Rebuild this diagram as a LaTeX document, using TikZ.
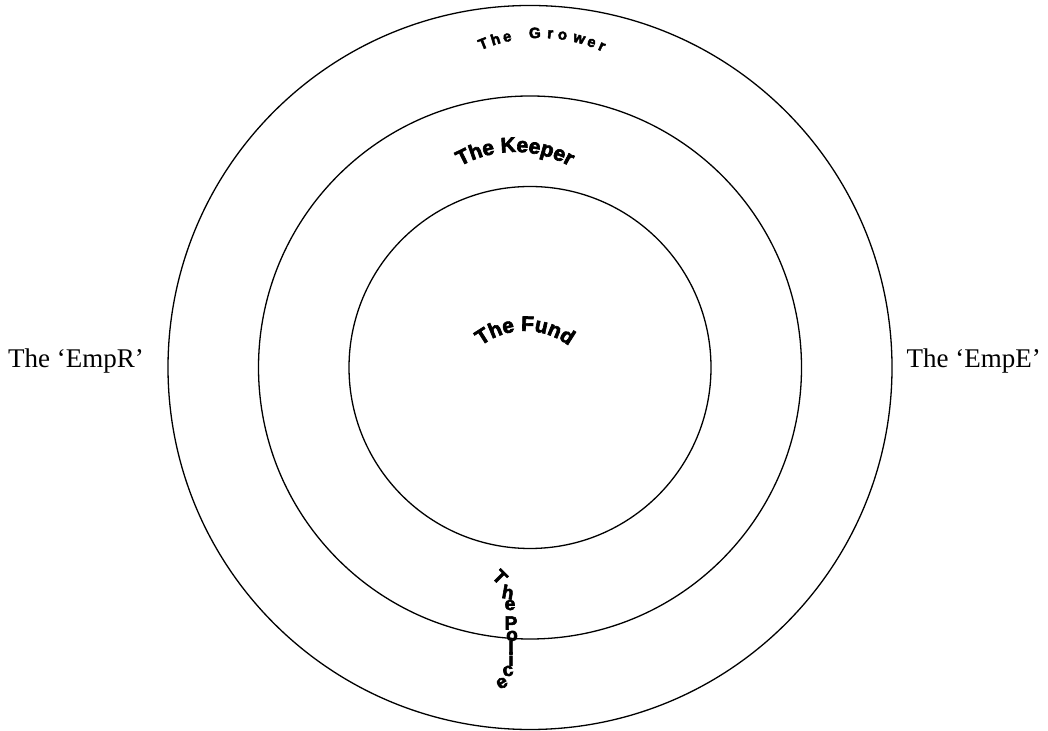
\documentclass[tikz,border=0pt]{standalone}
\usepackage{fontspec}
\setmainfont{Liberation Serif}
\newfontfamily\sansb{Liberation Sans}[BoldFeatures={FakeBold=3}]
\usetikzlibrary{decorations.text,calc}
\newcommand\growerfont{\sansb\bfseries\fontsize{15}{15}\selectfont}
\newcommand\bigarcfont{\sansb\bfseries\fontsize{21}{21}\selectfont}
\newcommand\policefont{\sansb\bfseries\fontsize{19}{19}\selectfont}
\tikzset{
  ring/.style={draw=black, line width=1.3pt, circle, inner sep=0pt, fill=none},
  side/.style={font=\fontsize{27}{27}\selectfont, inner sep=0pt},
  pletter/.style={font=\policefont, inner sep=0pt},
  gletter/.style={font=\growerfont, inner sep=0pt, anchor=base}
}
\begin{document}
\begin{tikzpicture}[x=1pt,y=1pt]
\useasboundingbox (0,0) rectangle (1048,730);
\fill[white] (0,0) rectangle (1048,730);
\coordinate (c) at (530,362.5);
\node[ring, minimum size=724pt] (outer) at (c) {};
\node[ring, minimum size=543pt] (middle) at (c) {};
\node[ring, minimum size=362pt] (inner) at (c) {};
% side labels
\node[side, anchor=base west] (empr) at (8,362) {The ‘EmpR’};
\node[side, anchor=base east] (empe) at (1041,362) {The ‘EmpE’};
% The Grower
\coordinate (gc) at (540,542);
\foreach \a/\l [count=\i] in {111.5/T, 106.7/h, 102.3/e, 91.9/G, 86.2/r, 81.6/o, 75.3/w, 70.5/e, 66.4/r}
  \node[gletter, rotate=\a-90] (grower\i) at ($(gc)+(\a:150pt)$) {\l};
% The Keeper
\path[decorate, decoration={text along path, text align=center,
  text={|\bigarcfont|The Keeper}}]
  (515,466) ++(145:112pt) arc[start angle=145, end angle=35, radius=112pt];
% The Fund
\path[decorate, decoration={text along path, text align=center,
  text={|\bigarcfont|The Fund}}]
  (525,327) ++(160:72pt) arc[start angle=160, end angle=20, radius=72pt];
% The Police
\foreach \x/\y/\r/\l [count=\i] in {500/577/-45/T, 508/592/-10/h, 510/605/0/e, 511/623/0/P, 512/636/0/o, 511/648/0/l, 511/659/0/i, 508/671/10/c, 502/683/30/e}
  \node[pletter, rotate=\r] (police\i) at (\x,730-\y) {\l};
\end{tikzpicture}
\end{document}
